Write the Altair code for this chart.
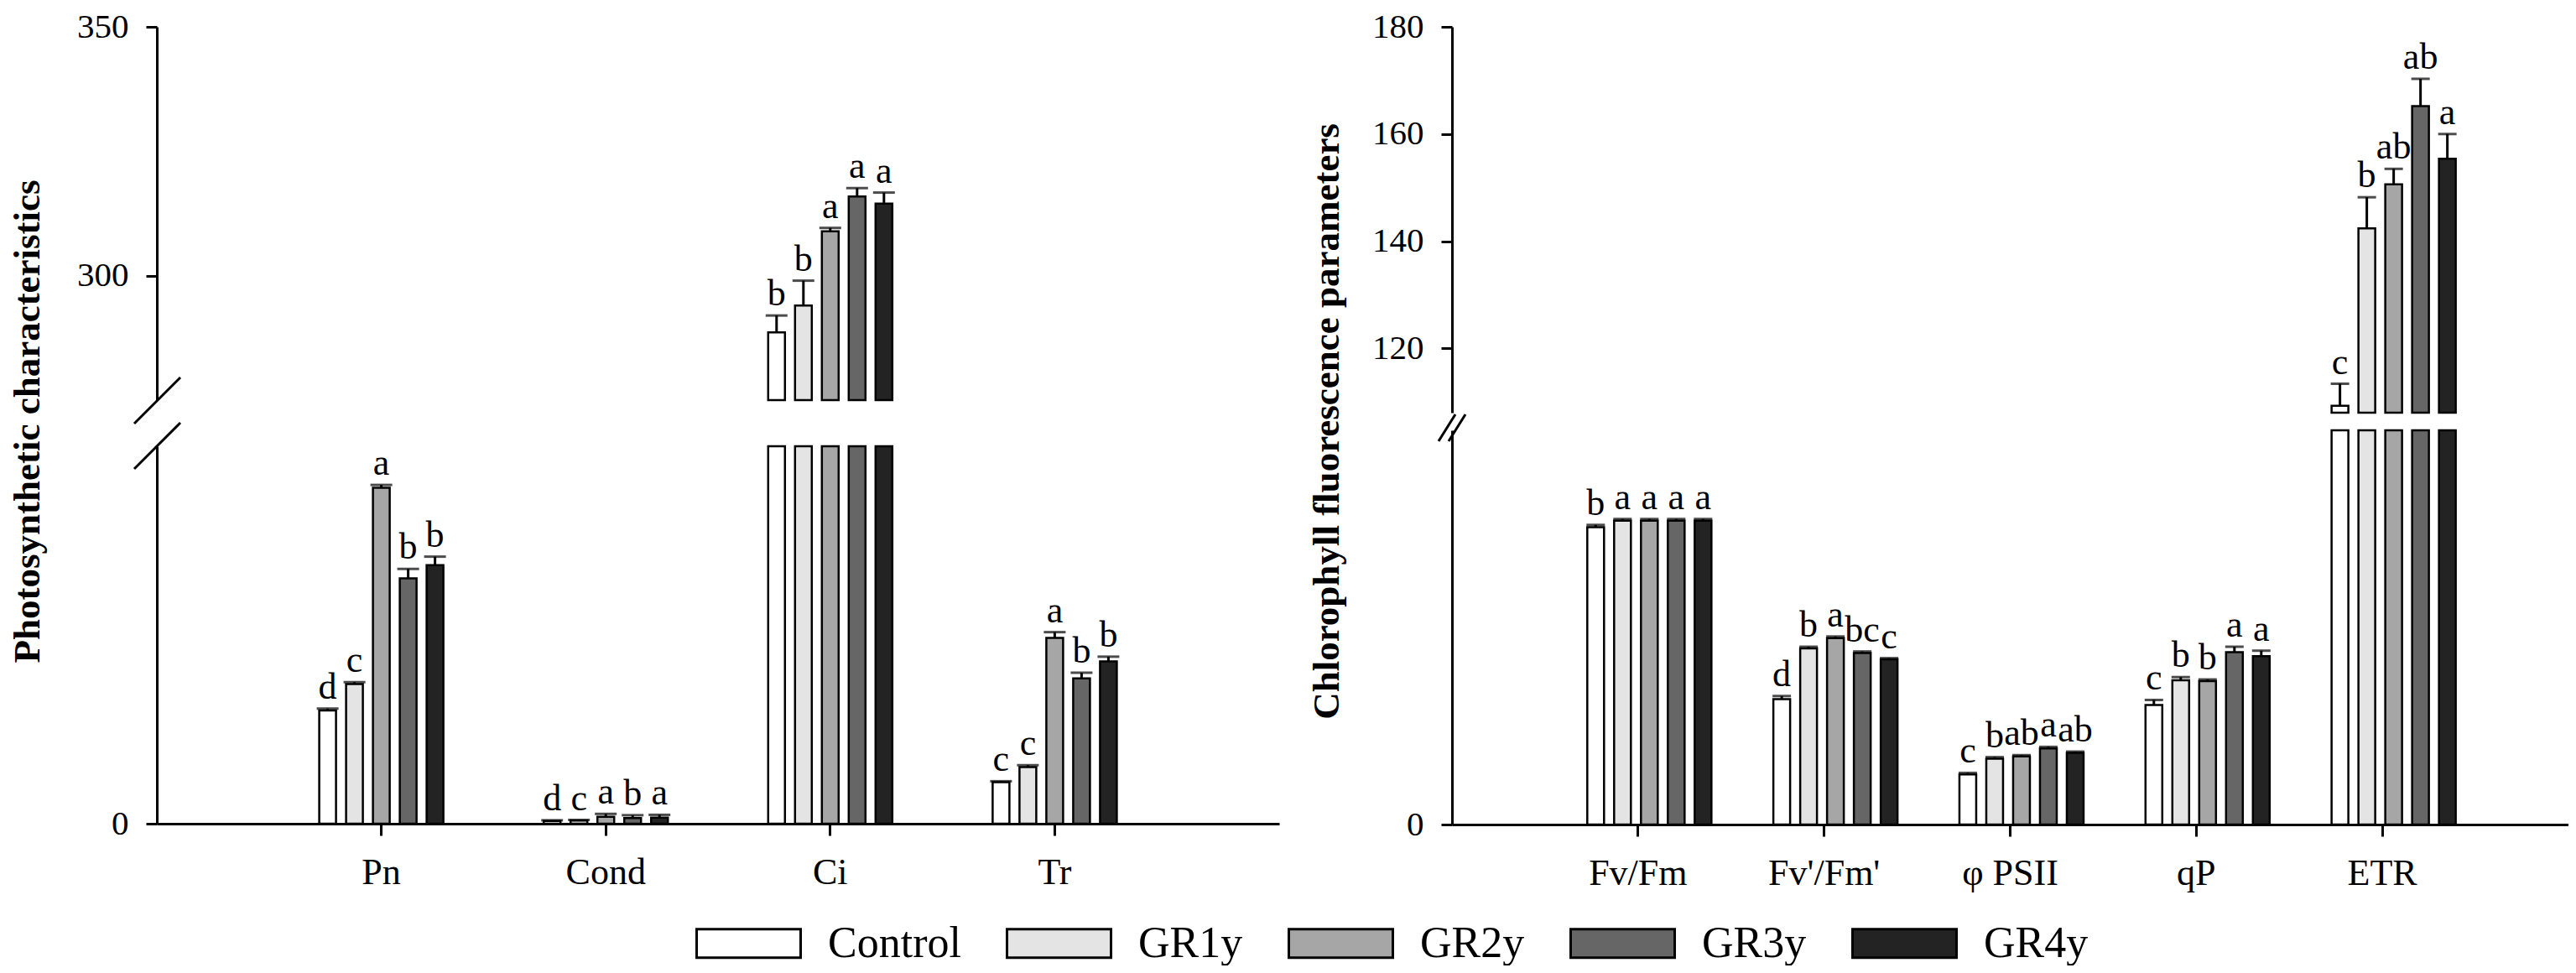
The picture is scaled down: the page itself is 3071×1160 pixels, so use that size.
import altair as alt
import pandas as pd

# ---------------- data ----------------
groups = ["Control", "GR1y", "GR2y", "GR3y", "GR4y"]
group_colors = ["#ffffff", "#e4e4e4", "#a6a6a6", "#666666", "#232323"]

photo_params = ["Pn", "Cond", "Ci", "Tr"]
photo_control = [6.0, 0.15, 288.6, 2.2]
photo_gr1y = [7.4, 0.17, 294.0, 3.0]
photo_gr2y = [17.8, 0.37, 308.9, 9.85]
photo_gr3y = [13.0, 0.30, 315.9, 7.7]
photo_gr4y = [13.7, 0.32, 314.5, 8.6]
photo_err_control = [0.1, 0.03, 3.4, 0.05]
photo_err_gr1y = [0.1, 0.03, 5.0, 0.1]
photo_err_gr2y = [0.15, 0.15, 0.7, 0.3]
photo_err_gr3y = [0.5, 0.15, 1.7, 0.3]
photo_err_gr4y = [0.45, 0.15, 2.2, 0.25]
photo_let_control = ["d", "d", "b", "c"]
photo_let_gr1y = ["c", "c", "b", "c"]
photo_let_gr2y = ["a", "a", "a", "a"]
photo_let_gr3y = ["b", "b", "a", "b"]
photo_let_gr4y = ["b", "a", "a", "b"]

fluor_params = ["Fv/Fm", "Fv'/Fm'", "φ PSII", "qP", "ETR"]
fluor_control = [0.754, 0.318, 0.127, 0.303, 109.3]
fluor_gr1y = [0.771, 0.447, 0.167, 0.366, 142.4]
fluor_gr2y = [0.771, 0.473, 0.173, 0.364, 150.6]
fluor_gr3y = [0.771, 0.435, 0.193, 0.437, 165.2]
fluor_gr4y = [0.771, 0.419, 0.182, 0.427, 155.4]
fluor_err_control = [0.006, 0.008, 0.004, 0.013, 4.1]
fluor_err_gr1y = [0.004, 0.004, 0.004, 0.008, 5.8]
fluor_err_gr2y = [0.004, 0.004, 0.003, 0.004, 2.9]
fluor_err_gr3y = [0.004, 0.004, 0.004, 0.014, 5.1]
fluor_err_gr4y = [0.004, 0.003, 0.003, 0.014, 4.6]
fluor_let_control = ["b", "d", "c", "c", "c"]
fluor_let_gr1y = ["a", "b", "b", "b", "b"]
fluor_let_gr2y = ["a", "a", "ab", "b", "ab"]
fluor_let_gr3y = ["a", "bc", "a", "a", "ab"]
fluor_let_gr4y = ["a", "c", "ab", "a", "a"]


def make_df(params, vals, errs, lets):
    rows = []
    for g, v, e, l in zip(groups, vals, errs, lets):
        for p, vv, ee, ll in zip(params, v, e, l):
            rows.append({"param": p, "group": g, "value": vv, "err": ee,
                         "top": vv + ee, "letter": ll})
    return pd.DataFrame(rows)


photo_df = make_df(
    photo_params,
    [photo_control, photo_gr1y, photo_gr2y, photo_gr3y, photo_gr4y],
    [photo_err_control, photo_err_gr1y, photo_err_gr2y, photo_err_gr3y, photo_err_gr4y],
    [photo_let_control, photo_let_gr1y, photo_let_gr2y, photo_let_gr3y, photo_let_gr4y],
)
fluor_df = make_df(
    fluor_params,
    [fluor_control, fluor_gr1y, fluor_gr2y, fluor_gr3y, fluor_gr4y],
    [fluor_err_control, fluor_err_gr1y, fluor_err_gr2y, fluor_err_gr3y, fluor_err_gr4y],
    [fluor_let_control, fluor_let_gr1y, fluor_let_gr2y, fluor_let_gr3y, fluor_let_gr4y],
)

FONT = "Liberation Serif"

color_enc = alt.Color(
    "group:N",
    scale=alt.Scale(domain=groups, range=group_colors),
    legend=alt.Legend(
        title=None, orient="none", direction="horizontal",
        legendX=673, legendY=1060,
        symbolType="M-2,-0.55H2V0.55H-2Z", symbolSize=3844,
        symbolStrokeColor="black", symbolStrokeWidth=3,
        labelFont=FONT, labelFontSize=52, labelColor="black",
        labelOffset=62, columnPadding=48, padding=0, labelLimit=400,
    ),
)


def panel(df, params, up_dom, up_ticks, low_dom, h_up, h_low, gap, width,
          inner_pad, bar_pad, cap_w, title, title_pad, slashes):
    po = (1 + inner_pad) / 2
    xs = alt.Scale(domain=params, paddingInner=inner_pad, paddingOuter=po)
    xos = alt.Scale(domain=groups, paddingInner=bar_pad, paddingOuter=bar_pad / 2)
    xo = alt.XOffset("group:N", scale=xos, sort=groups)
    ys_up = alt.Scale(domain=up_dom, clamp=True, zero=False, nice=False)
    ys_low = alt.Scale(domain=low_dom, clamp=True, nice=False)
    ax_up = alt.Axis(values=up_ticks, title=title, titlePadding=title_pad,
                     titleY=470)
    ax_low = alt.Axis(values=[0], title=None)

    # ----- upper segment -----
    up = alt.Chart(df).transform_filter(alt.datum.value > up_dom[0])
    x_up = alt.X("param:N", scale=xs, axis=None, sort=params)
    bars_up = up.mark_bar(stroke="black", strokeWidth=2.5).encode(
        x=x_up, xOffset=xo,
        y=alt.Y("value:Q", scale=ys_up, axis=ax_up),
        y2=alt.datum(up_dom[0]),
        color=color_enc,
    )
    wh_up = up.mark_rule(color="black", strokeWidth=3).encode(
        x=x_up, xOffset=xo, y=alt.Y("value:Q", scale=ys_up, axis=ax_up), y2="top:Q")
    cap_up = up.mark_tick(color="black", thickness=3, size=cap_w).encode(
        x=x_up, xOffset=xo, y=alt.Y("top:Q", scale=ys_up, axis=ax_up))
    txt_up = up.mark_text(font=FONT, fontSize=44, dy=-12, baseline="alphabetic",
                          color="black").encode(
        x=x_up, xOffset=xo, y=alt.Y("top:Q", scale=ys_up, axis=ax_up), text="letter:N")

    sl = alt.Chart(pd.DataFrame({"k": [0]}))
    up_layers = [bars_up, wh_up, cap_up, txt_up]
    low_slash = []
    if slashes == "two":
        up_layers.append(sl.mark_rule(color="black", strokeWidth=3).encode(
            x=alt.value(-27), x2=alt.value(28), y=alt.value(h_up + 28), y2=alt.value(h_up - 27)))
        low_slash.append(sl.mark_rule(color="black", strokeWidth=3).encode(
            x=alt.value(-27), x2=alt.value(28), y=alt.value(27), y2=alt.value(-28)))
    else:
        for dx in (-6, 6):
            up_layers.append(sl.mark_rule(color="black", strokeWidth=3).encode(
                x=alt.value(dx - 10), x2=alt.value(dx + 10),
                y=alt.value(h_up + 34), y2=alt.value(h_up + 2)))
    upper = alt.layer(*up_layers).properties(width=width, height=h_up)

    # ----- lower segment -----
    low = alt.Chart(df)
    lowf = alt.Chart(df).transform_filter(alt.datum.top < low_dom[1])
    x_low = alt.X("param:N", scale=xs, sort=params,
                  axis=alt.Axis(title=None, labelAngle=0, labelPadding=22,
                                labelFontSize=44, tickSize=14))
    bars_low = low.mark_bar(stroke="black", strokeWidth=2.5).encode(
        x=x_low, xOffset=xo,
        y=alt.Y("value:Q", scale=ys_low, axis=ax_low),
        y2=alt.datum(0),
        color=color_enc,
    )
    wh_low = lowf.mark_rule(color="black", strokeWidth=3).encode(
        x=x_low, xOffset=xo, y=alt.Y("value:Q", scale=ys_low, axis=ax_low), y2="top:Q")
    cap_low = lowf.mark_tick(color="black", thickness=3, size=cap_w).encode(
        x=x_low, xOffset=xo, y=alt.Y("top:Q", scale=ys_low, axis=ax_low))
    txt_low = lowf.mark_text(font=FONT, fontSize=44, dy=-12, baseline="alphabetic",
                             color="black").encode(
        x=x_low, xOffset=xo, y=alt.Y("top:Q", scale=ys_low, axis=ax_low), text="letter:N")
    lower = alt.layer(bars_low, wh_low, cap_low, txt_low, *low_slash).properties(
        width=width, height=h_low)

    return alt.vconcat(upper, lower, spacing=gap, bounds="flush")


left = panel(photo_df, photo_params, [275, 350], [300, 350], [0, 20],
             445, 450, 55, 1338, 0.402, 0.375, 26,
             "Photosynthetic characteristics", 36, "two")
right = panel(fluor_df, fluor_params, [108, 180], [120, 140, 160, 180], [0, 1.0],
              460, 470, 21, 1331, 0.40, 0.36, 22,
              "Chlorophyll fluorescence parameters", 31, "double")

chart = alt.hconcat(left, right, spacing=34).properties(
    padding={"left": 2, "top": 3, "right": 0, "bottom": 0},
    background="white",
).configure_view(stroke=None).configure_axis(
    domainColor="black", domainWidth=3, tickColor="black", tickWidth=3,
    tickSize=13, labelFont=FONT, labelFontSize=41, labelColor="black",
    labelPadding=21, titleFont=FONT, titleFontSize=45, titleFontWeight="bold",
    titleColor="black", grid=False,
)

chart.save("out.html", embed_options={"renderer": "svg", "actions": False})
